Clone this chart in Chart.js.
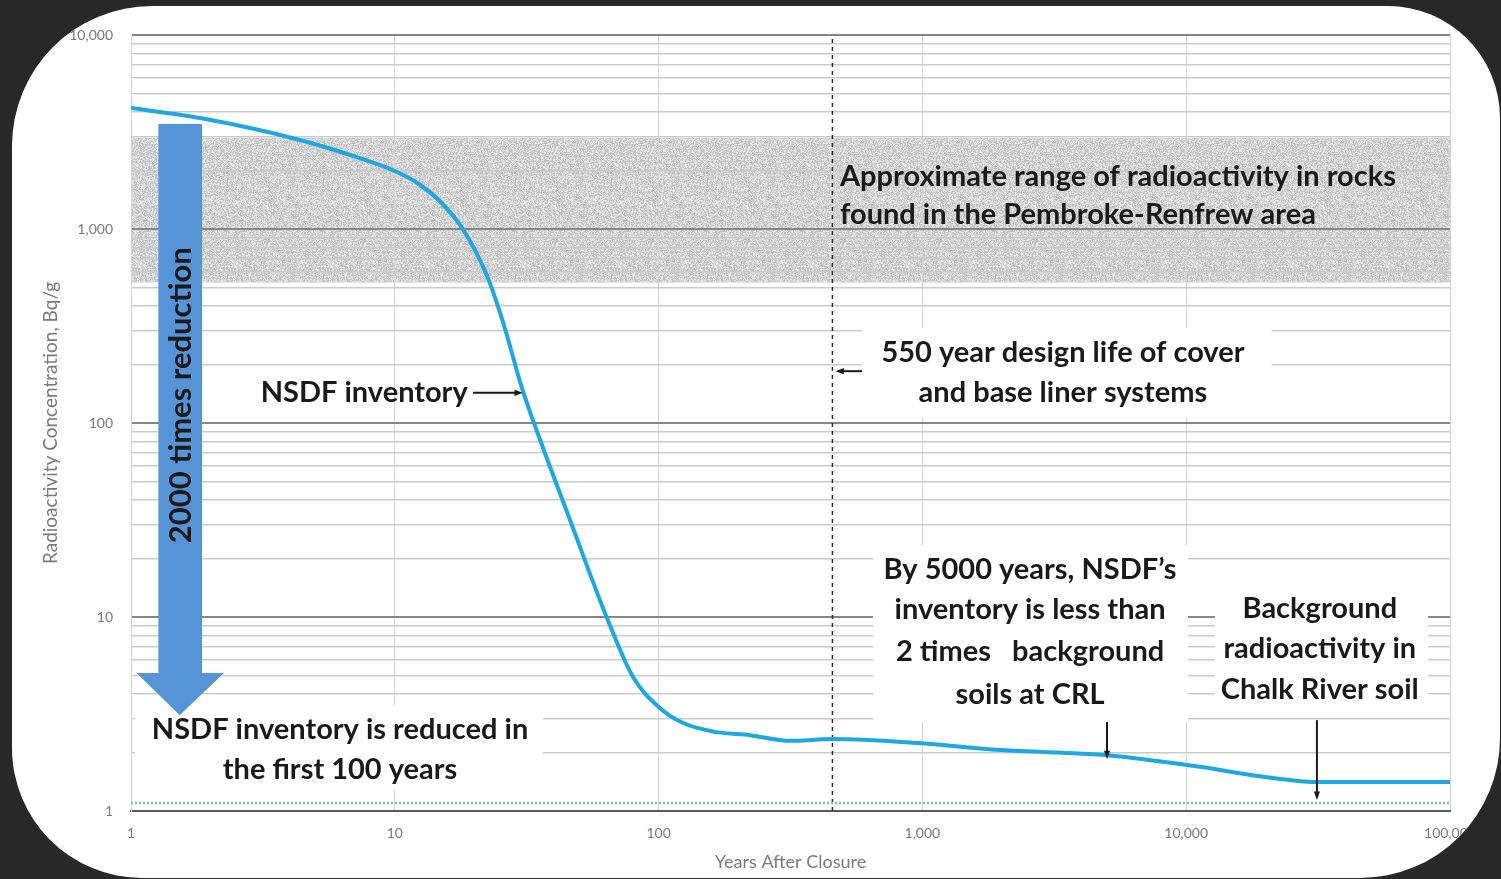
<!DOCTYPE html>
<html lang="en">
<head>
  <meta charset="UTF-8">
  <title>NSDF inventory - radioactivity after closure</title>
  <script src="https://cdn.jsdelivr.net/npm/chart.js@4"></script>
  <style>
    html, body { margin: 0; padding: 0; width: 100%; height: 100%; background: #282828; overflow: hidden; }
    #card {
      position: absolute; left: 12px; top: 6px; width: 1488px; height: 872px;
      background: #fff; overflow: hidden;
      border-radius: 140px 112px 140px 130px;
    }
    #chart { position: absolute; left: -12px; top: -6px; }
  </style>
</head>
<body>
  <div id="card"><canvas id="chart" width="1501" height="879"></canvas></div>

  <script>
// years after closure and NSDF inventory (Bq/g)
var years     = [1, 1.83, 4.37, 6.77, 10, 12.5, 14.8, 18.1, 22.3, 25.7, 30.5, 36.4, 46, 63.5, 80, 100, 124, 166, 222, 315, 458, 953, 1970, 5010, 11300, 19000, 31300, 100000];
var inventory = [4200, 3730, 2877, 2407, 1990, 1686, 1394, 1000, 579, 332, 148, 75, 32, 10, 4.9, 3.44, 2.84, 2.55, 2.46, 2.30, 2.35, 2.24, 2.06, 1.94, 1.69, 1.51, 1.41, 1.41];

var rockRange = [530, 2950];        // Pembroke-Renfrew rocks, Bq/g
var soilBackground = 1.1;           // Chalk River soil, Bq/g
var designLifeYear = 456;           // dashed line

var xTickValues = [1, 10, 100, 1000, 10000, 100000];
var xTickLabels = ['1', '10', '100', '1,000', '10,000', '100,000'];
var yTickValues = [1, 10, 100, 1000, 10000];
var yTickLabels = ['1', '10', '100', '1,000', '10,000'];

var FONT = "Lato, 'Open Sans', sans-serif";
var INK = '#1a1a1a';

/* gray speckle for the rock band */
function makeSpeckle() {
  var c = document.createElement('canvas');
  c.width = 96; c.height = 96;
  var g = c.getContext('2d');
  var img = g.createImageData(96, 96);
  for (var j = 0; j < 96; j++) {
    for (var i = 0; i < 96; i++) {
      var s = Math.sin(i * 12.9898 + j * 78.233) * 43758.5453;
      var v = Math.round(186 + (s - Math.floor(s)) * 50);
      var k = (j * 96 + i) * 4;
      img.data[k] = v; img.data[k + 1] = v; img.data[k + 2] = v; img.data[k + 3] = 255;
    }
  }
  g.putImageData(img, 0, 0);
  return c;
}

/* minor grid lines 2..9 in every decade */
var yGrid = [];
for (var d = 0; d < 4; d++) {
  for (var m = 1; m < 10; m++) yGrid.push(m * Math.pow(10, d));
}
yGrid.push(10000);

function isDecade(v) {
  return Math.abs(Math.log10(v) - Math.round(Math.log10(v))) < 1e-9;
}

/* annotation layout, in data units */
var notes = [
  { lines: ['Approximate range of radioactivity in rocks', 'found in the Pembroke-Renfrew area'], x: 487, ys: [1854, 1180], align: 'left' },
  { lines: ['550 year design life of cover', 'and base liner systems'], x: 3410, ys: [230, 143], align: 'center', box: [590, 21100, 309, 106] },
  { lines: ['NSDF inventory'], x: 18.9, ys: [143], align: 'right' },
  { lines: ['NSDF inventory is reduced in', 'the first 100 years'], x: 6.2, ys: [2.62, 1.63], align: 'center', box: [1.035, 36.5, 3.52, 1.28] },
  { lines: ['By 5000 years, NSDF\u2019s', 'inventory is less than', '2 times   background', 'soils at CRL'], x: 2560, ys: [17.5, 10.9, 6.6, 4.0], align: 'center', box: [650, 10160, 23.5, 2.88] },
  { lines: ['Background', 'radioactivity in', 'Chalk River soil'], x: 32100, ys: [11.1, 6.9, 4.2], align: 'center', box: [12850, 82600, 14.6, 3.32] }
];
var arrows = [
  { from: [590, 185], to: [468, 185] },
  { from: [19.8, 143], to: [30.6, 143] },
  { from: [5010, 2.88], to: [5010, 1.85] },
  { from: [31300, 2.94], to: [31300, 1.14] }
];
var bigArrow = { shaft: [1.27, 1.86], top: 3475, headTop: 5.15, head: [1.05, 2.25], tip: 3.12, mid: 1.53, labelY: 139 };

var bandPlugin = {
  id: 'band',
  beforeDraw: function(chart) {
    var ctx = chart.ctx, a = chart.chartArea, y = chart.scales.y;
    if (!chart.$speckle) chart.$speckle = ctx.createPattern(makeSpeckle(), 'repeat');
    var t = y.getPixelForValue(rockRange[1]), b = y.getPixelForValue(rockRange[0]);
    ctx.save();
    ctx.fillStyle = chart.$speckle;
    ctx.fillRect(a.left, t, a.right - a.left, b - t);
    ctx.restore();
  }
};

function drawArrowLine(ctx, x1, y1, x2, y2) {
  var ang = Math.atan2(y2 - y1, x2 - x1), h = 9;
  ctx.beginPath();
  ctx.moveTo(x1, y1);
  ctx.lineTo(x2 - Math.cos(ang) * 4, y2 - Math.sin(ang) * 4);
  ctx.stroke();
  ctx.beginPath();
  ctx.moveTo(x2, y2);
  ctx.lineTo(x2 - h * Math.cos(ang - 0.35), y2 - h * Math.sin(ang - 0.35));
  ctx.lineTo(x2 - h * Math.cos(ang + 0.35), y2 - h * Math.sin(ang + 0.35));
  ctx.closePath();
  ctx.fill();
}

var notesPlugin = {
  id: 'notes',
  afterDatasetsDraw: function(chart) {
    var ctx = chart.ctx, sx = chart.scales.x, sy = chart.scales.y;
    var px = function(v) { return sx.getPixelForValue(v); };
    var py = function(v) { return sy.getPixelForValue(v); };
    ctx.save();

    notes.forEach(function(n) {
      if (!n.box) return;
      ctx.fillStyle = '#fff';
      ctx.fillRect(px(n.box[0]), py(n.box[2]), px(n.box[1]) - px(n.box[0]), py(n.box[3]) - py(n.box[2]));
    });

    ctx.fillStyle = INK;
    ctx.font = 'bold 29px ' + FONT;
    ctx.textBaseline = 'middle';
    notes.forEach(function(n) {
      ctx.textAlign = n.align;
      n.lines.forEach(function(line, i) {
        ctx.fillText(line, px(n.x), py(n.ys[i]));
      });
    });

    ctx.strokeStyle = INK;
    ctx.lineWidth = 2;
    arrows.forEach(function(ar) {
      drawArrowLine(ctx, px(ar.from[0]), py(ar.from[1]), px(ar.to[0]), py(ar.to[1]));
    });

    // big blue arrow with rotated label
    var b = bigArrow;
    ctx.fillStyle = '#5694d8';
    ctx.beginPath();
    ctx.moveTo(px(b.shaft[0]), py(b.top));
    ctx.lineTo(px(b.shaft[1]), py(b.top));
    ctx.lineTo(px(b.shaft[1]), py(b.headTop));
    ctx.lineTo(px(b.head[1]), py(b.headTop));
    ctx.lineTo(px(b.mid), py(b.tip));
    ctx.lineTo(px(b.head[0]), py(b.headTop));
    ctx.lineTo(px(b.shaft[0]), py(b.headTop));
    ctx.closePath();
    ctx.fill();

    ctx.translate(px(b.mid), py(b.labelY));
    ctx.rotate(-Math.PI / 2);
    ctx.fillStyle = INK;
    ctx.textAlign = 'center';
    ctx.font = 'bold 31px ' + FONT;
    ctx.fillText('2000 times reduction', 0, 1);
    ctx.restore();
  }
};

var chart = new Chart(document.getElementById('chart'), {
  type: 'line',
  data: {
    datasets: [
      {
        label: 'NSDF inventory',
        data: years.map(function(x, i) { return { x: x, y: inventory[i] }; }),
        borderColor: '#1ea7e1',
        borderWidth: 4,
        pointRadius: 0,
        cubicInterpolationMode: 'monotone'
      },
      {
        label: 'Background',
        data: [{ x: xTickValues[0], y: soilBackground }, { x: xTickValues[5], y: soilBackground }],
        borderColor: '#7fc49c',
        borderWidth: 2.5,
        borderDash: [2, 2],
        pointRadius: 0
      },
      {
        label: 'Design life',
        data: [{ x: designLifeYear, y: yTickValues[0] }, { x: designLifeYear, y: yTickValues[4] }],
        borderColor: '#2e2e2e',
        borderWidth: 1.5,
        borderDash: [4, 4],
        pointRadius: 0
      }
    ]
  },
  options: {
    responsive: false,
    animation: false,
    layout: { padding: { top: 35, right: 51, left: 0, bottom: 0 } },
    plugins: { legend: { display: false }, tooltip: { enabled: false } },
    scales: {
      x: {
        type: 'logarithmic',
        min: 1, max: 100000,
        afterFit: function(s) { s.height = 68; },
        afterBuildTicks: function(s) { s.ticks = xTickValues.map(function(v) { return { value: v }; }); },
        ticks: {
          autoSkip: false, maxRotation: 0, padding: 14,
          color: '#7a7a7a', font: { family: FONT, size: 14 },
          callback: function(v) { var i = xTickValues.indexOf(v); return i < 0 ? '' : xTickLabels[i]; }
        },
        grid: { drawTicks: false, color: '#d4d4d4', lineWidth: 1 },
        border: { color: '#5a5a5a', width: 2 },
        title: { display: true, text: 'Years After Closure', color: '#7a7a7a', font: { family: FONT, size: 18 }, padding: { top: 0, bottom: 6 } }
      },
      y: {
        type: 'logarithmic',
        min: 1, max: 10000,
        afterFit: function(s) { s.width = 131; },
        afterBuildTicks: function(s) { s.ticks = yGrid.map(function(v) { return { value: v }; }); },
        ticks: {
          autoSkip: false, padding: 18,
          color: '#7a7a7a', font: { family: FONT, size: 14 },
          callback: function(v) { var i = yTickValues.indexOf(v); return i < 0 ? '' : yTickLabels[i]; }
        },
        grid: {
          drawTicks: false,
          color: function(c) { return c.tick && isDecade(c.tick.value) ? '#858585' : '#cbcbcb'; },
          lineWidth: function(c) { return c.tick && isDecade(c.tick.value) ? 2 : 1.5; }
        },
        border: { color: '#d4d4d4', width: 1 },
        title: { display: true, text: 'Radioactivity Concentration, Bq/g', color: '#7a7a7a', font: { family: FONT, size: 19 }, padding: { top: 39, bottom: 0 } }
      }
    }
  },
  plugins: [bandPlugin, notesPlugin]
});
  </script>
</body>
</html>
